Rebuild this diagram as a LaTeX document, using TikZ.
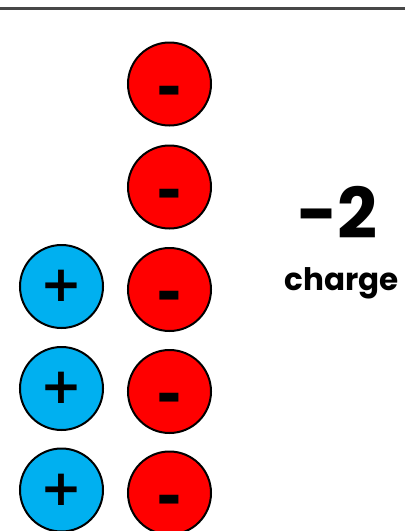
\documentclass[tikz,border=0pt]{standalone}
\usepackage{fontspec}
\setmainfont{Poppins}
\newfontfamily\signfont{DejaVu Sans}
\usetikzlibrary{positioning}
\definecolor{protonblue}{HTML}{00B0F0}
\definecolor{electronred}{HTML}{FF0000}

\begin{document}
\begin{tikzpicture}[x=1pt, y=-1pt,
  particle/.style={draw, circle, line width=2pt, minimum size=83pt, inner sep=0pt, text depth=0pt},
  proton/.style={particle, fill=protonblue, text height=30pt, font=\signfont\fontsize{50}{50}\selectfont\bfseries},
  electron/.style={particle, fill=electronred, text height=48pt, font=\signfont\fontsize{62}{62}\selectfont\bfseries}]
  \useasboundingbox (0,0) rectangle (405,531);

  % Linea superior
  \coordinate (izq) at (0,8);
  \coordinate (der) at (405,8);
  \draw[line width=3pt, draw=black!72] (izq) -- (der);

  % Electrones
  \node[electron] (e1) at (169.5,84) {-};
  \node[electron] (e2) at (169.5,187) {-};
  \node[electron] (e3) at (169.5,289.5) {-};
  \node[electron] (e4) at (169.5,391.5) {-};
  \node[electron] (e5) at (169.5,493) {-};

  % Protones
  \node[proton] (p1) at (61.5,286.5) {+};
  \node[proton] (p2) at (61.5,388.5) {+};
  \node[proton] (p3) at (61.5,490) {+};

  % Carga
  \node[anchor=base, font=\fontsize{70}{70}\selectfont\bfseries] (carga) at (337.5,238) {-2};
  \node[anchor=base, font=\fontsize{31}{31}\selectfont\bfseries] (etiqueta) at (342,290) {charge};

\end{tikzpicture}
\end{document}
